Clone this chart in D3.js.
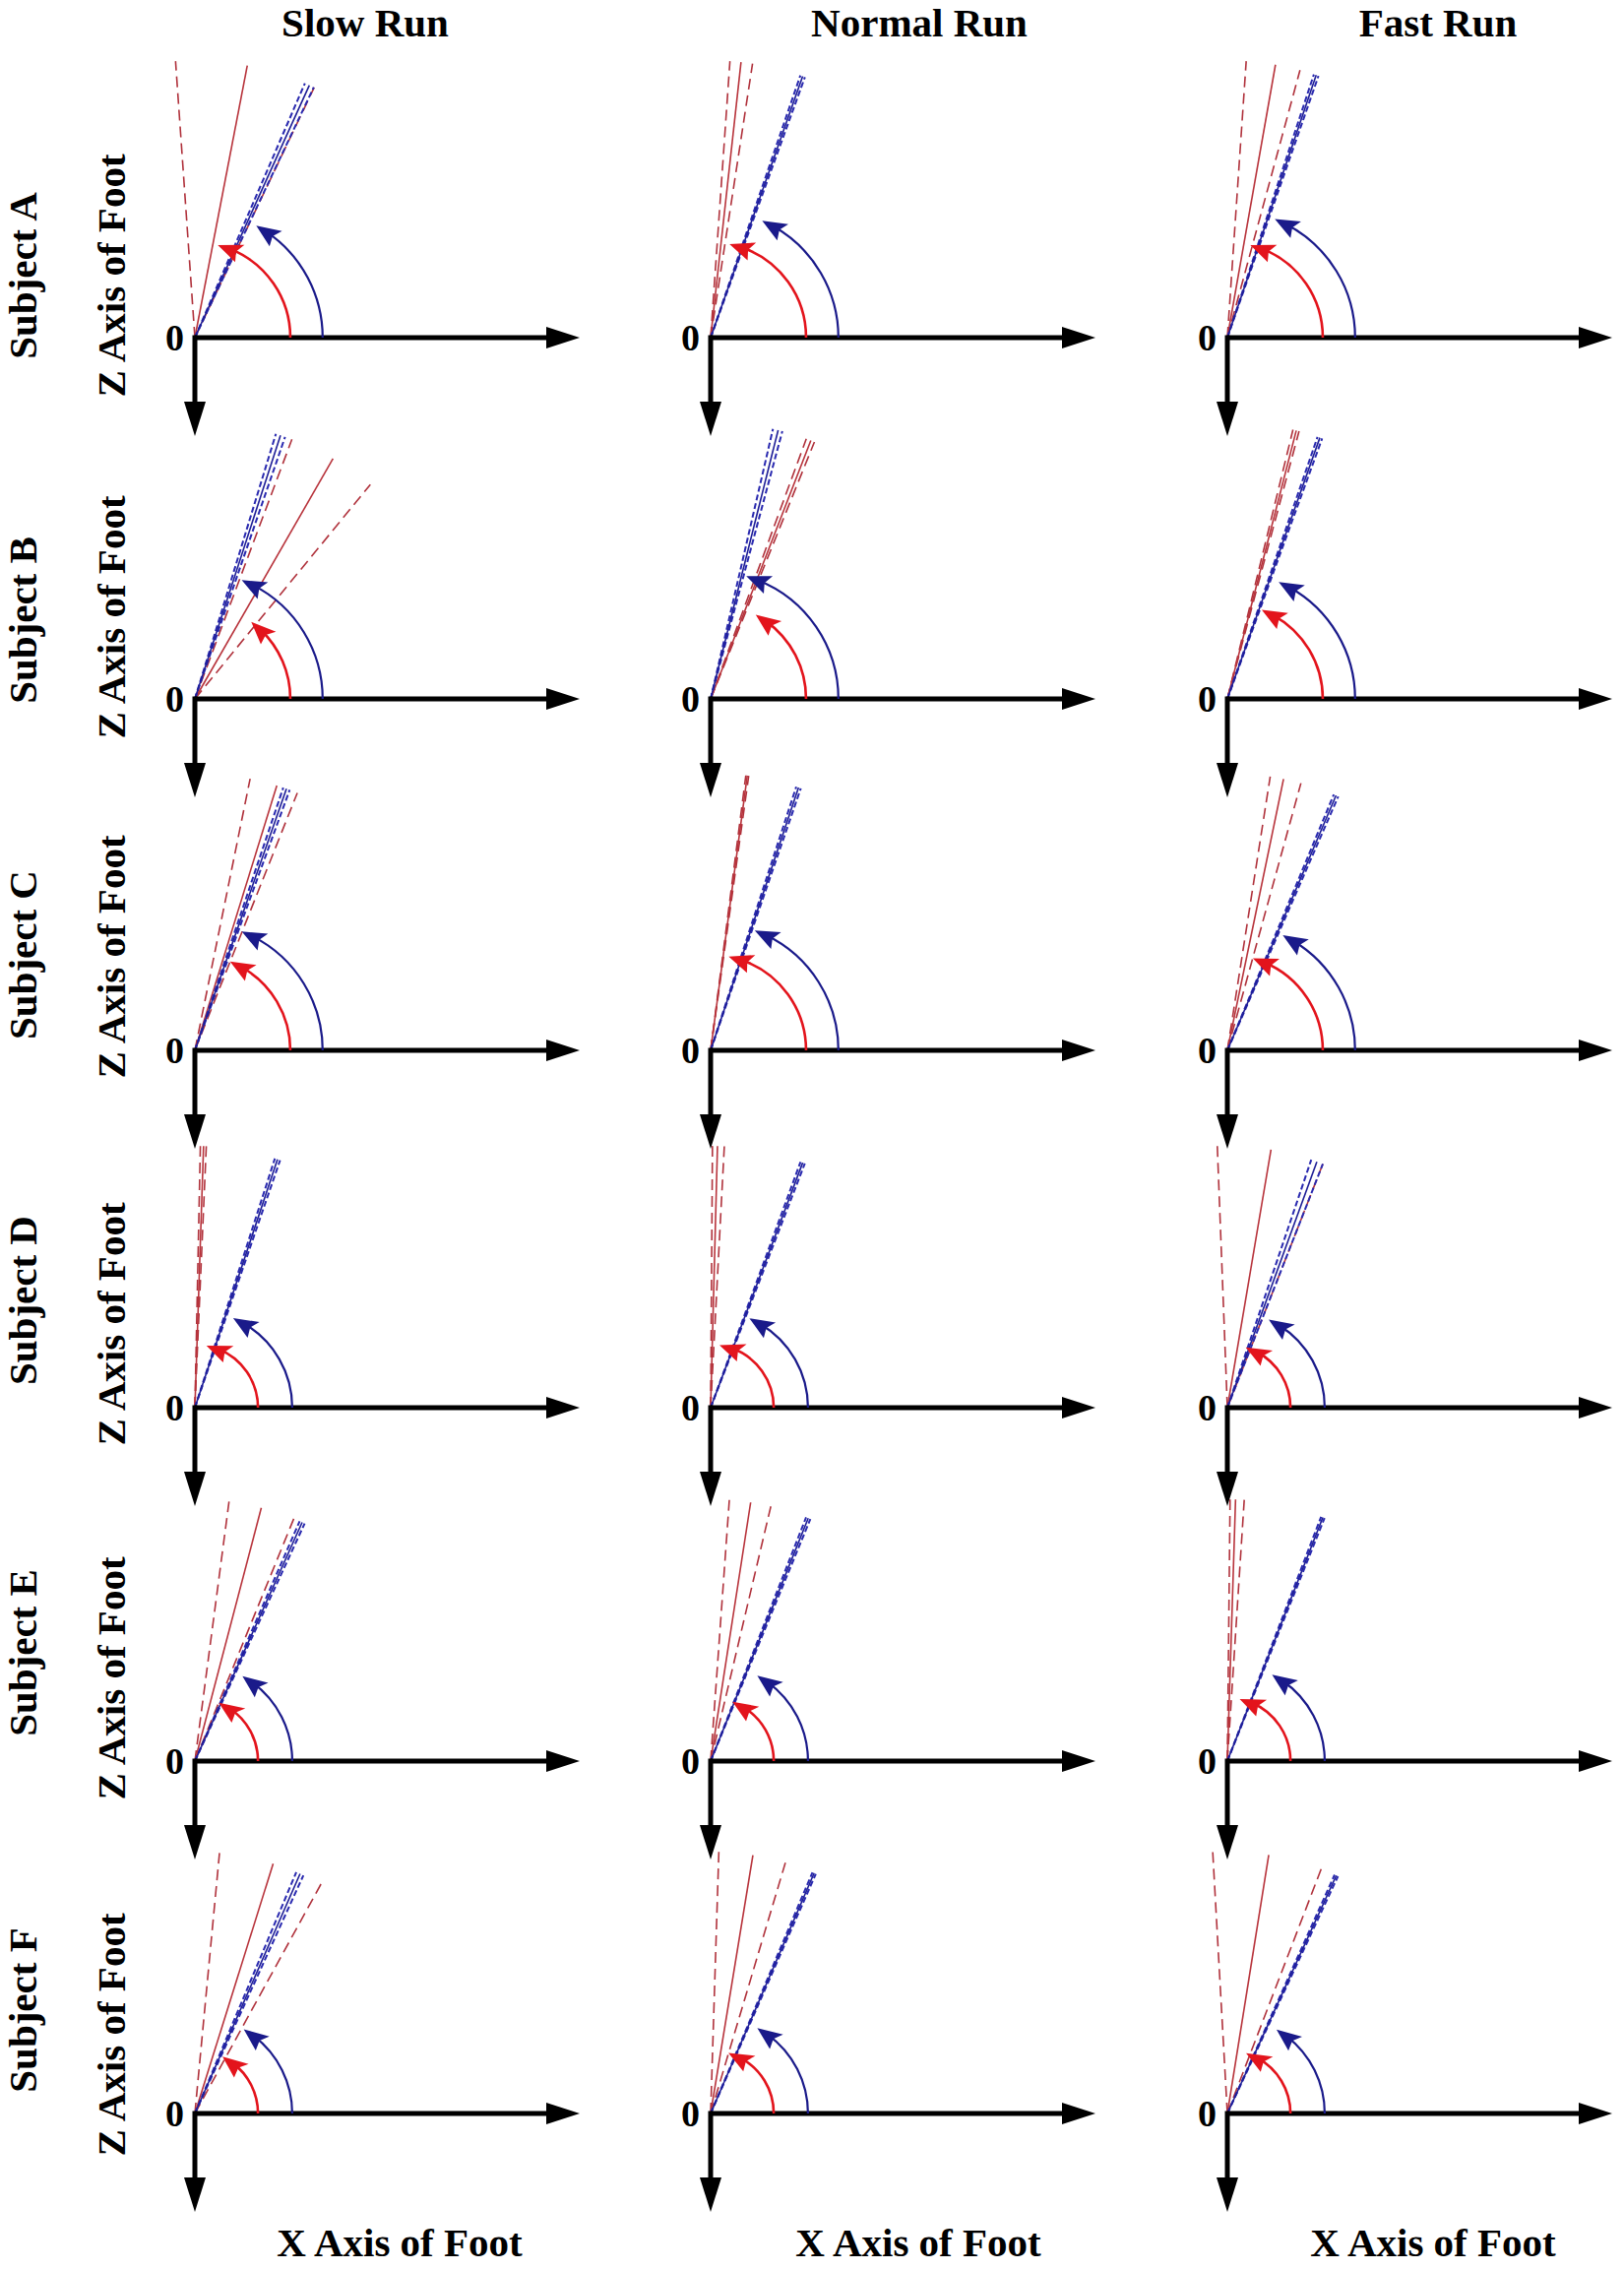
<!DOCTYPE html>
<html>
<head>
<meta charset="utf-8">
<script src="https://cdn.jsdelivr.net/npm/d3@7"></script>
<style>
  body { margin: 0; background: #fff; }
  text { font-family: "Liberation Serif", "Times New Roman", serif; font-weight: bold; fill: #000; }
</style>
</head>
<body>
<svg id="chart"></svg>
<script>
const subjects = ["Subject A", "Subject B", "Subject C", "Subject D", "Subject E", "Subject F"];
const speeds = ["Slow Run", "Normal Run", "Fast Run"];

// angles in degrees from the X axis of the foot; rows = subjects, columns = speeds
const blueMean = [[65.6, 70.6, 71.3], [72.0, 75.9, 70.5], [70.7, 71.5, 66.9], [71.6, 69.4, 70.0], [65.8, 68.1, 68.6], [66.3, 66.7, 65.4]];
const blueLow  = [[64.6, 70.1, 70.8], [71.0, 75.0, 70.0], [70.0, 71.0, 66.4], [71.0, 68.9, 68.6], [65.2, 67.6, 68.2], [65.5, 66.3, 65.0]];
const blueHigh = [[66.6, 71.1, 71.8], [73.0, 77.0, 71.0], [71.4, 72.0, 67.4], [72.2, 69.9, 71.3], [66.4, 68.6, 69.0], [67.2, 67.1, 65.8]];
const redMean  = [[79.1, 83.7, 80.0], [60.1, 68.8, 75.6], [72.8, 82.4, 78.3], [88.1, 88.5, 80.4], [75.3, 81.2, 88.2], [72.6, 80.7, 80.9]];
const redLow   = [[64.5, 81.3, 74.8], [50.7, 68.0, 75.0], [68.3, 82.1, 74.6], [87.5, 87.0, 68.6], [67.8, 76.7, 86.3], [61.2, 73.4, 69.0]];
const redHigh  = [[94.0, 86.0, 86.1], [69.5, 69.8, 76.3], [78.5, 82.7, 81.1], [88.8, 89.6, 92.2], [82.5, 85.9, 89.4], [84.6, 88.2, 93.2]];
// where the angle arrows end
const redArc   = [[69.0, 71.5, 69.0], [46.7, 54.7, 61.8], [61.3, 72.0, 67.4], [68.7, 71.2, 62.3], [57.0, 59.0, 68.0], [53.3, 62.9, 62.0]];
const blueArc  = [[56.0, 60.9, 62.9], [63.2, 68.5, 61.0], [63.2, 64.5, 59.0], [59.9, 59.6, 57.9], [53.8, 54.4, 55.7], [52.9, 54.4, 52.7]];

const W = 1650, H = 2306;
const colX = [198, 722, 1247];
const rowY = [343, 710, 1067, 1430, 1789, 2147];
const subjY = [280, 630, 970, 1321, 1679, 2042];
const zY = [280, 627, 972, 1345, 1705, 2067];
const titleX = [371, 934, 1461];
const footX = [406, 933, 1456];
const AXIS = 391, DOWN = 100;
const FONT = 41;

const svg = d3.select("#chart").attr("width", W).attr("height", H);
svg.append("rect").attr("width", W).attr("height", H).attr("fill", "#fff");

const rad = d => d * Math.PI / 180;

// column titles and bottom labels
svg.selectAll("text.title").data(speeds).join("text")
  .attr("class", "title")
  .attr("x", (d, i) => titleX[i]).attr("y", 37)
  .attr("text-anchor", "middle").attr("font-size", FONT)
  .text(d => d);

svg.selectAll("text.foot").data(speeds).join("text")
  .attr("class", "foot")
  .attr("x", (d, i) => footX[i]).attr("y", 2292)
  .attr("text-anchor", "middle").attr("font-size", FONT)
  .text("X Axis of Foot");

// row labels
svg.selectAll("text.subj").data(subjects).join("text")
  .attr("class", "subj")
  .attr("transform", (d, i) => `translate(37,${subjY[i]}) rotate(-90)`)
  .attr("text-anchor", "middle").attr("font-size", FONT)
  .text(d => d);

svg.selectAll("text.zax").data(subjects).join("text")
  .attr("class", "zax")
  .attr("transform", (d, i) => `translate(127,${zY[i]}) rotate(-90)`)
  .attr("text-anchor", "middle").attr("font-size", FONT)
  .text("Z Axis of Foot");

const styles = {
  redDash:  { stroke: "#b0323c", width: 1.6, dash: "11,6" },
  red:      { stroke: "#b8343c", width: 1.6, dash: null },
  blueDash: { stroke: "#2a2ab0", width: 2.0, dash: "6,3" },
  blue:     { stroke: "#1e1e96", width: 1.6, dash: null }
};

subjects.forEach((subj, r) => {
  speeds.forEach((sp, c) => {
    const ox = colX[c], oy = rowY[r];
    const x = d3.scaleLinear().domain([0, 1]).range([ox, ox + AXIS]);
    const y = d3.scaleLinear().domain([0, 1]).range([oy, oy - AXIS]);
    const len = r < 3 ? 0.72 : 0.68;
    const rRed = r < 3 ? 0.248 : 0.164;
    const rBlue = r < 3 ? 0.332 : 0.253;
    const g = svg.append("g");

    const rays = [
      { a: redLow[r][c], s: "redDash" },
      { a: redHigh[r][c], s: "redDash" },
      { a: redMean[r][c], s: "red" },
      { a: blueLow[r][c], s: "blueDash" },
      { a: blueHigh[r][c], s: "blueDash" },
      { a: blueMean[r][c], s: "blue" }
    ];
    g.selectAll("line.ray").data(rays).join("line")
      .attr("class", "ray")
      .attr("x1", x(0)).attr("y1", y(0))
      .attr("x2", d => x(len * Math.cos(rad(d.a))))
      .attr("y2", d => y(len * Math.sin(rad(d.a))))
      .attr("stroke", d => styles[d.s].stroke)
      .attr("stroke-width", d => styles[d.s].width)
      .attr("stroke-dasharray", d => styles[d.s].dash);

    // axes with arrowheads
    const axis = g.append("g");
    const ax = d3.path();
    ax.moveTo(x(0), y(0));
    ax.lineTo(x(1) - 30, y(0));
    axis.append("path").attr("d", ax.toString()).attr("stroke", "#000").attr("stroke-width", 5).attr("fill", "none");
    const down = d3.path();
    down.moveTo(x(0), y(0) - 2.5);
    down.lineTo(x(0), y(0) + DOWN - 32);
    axis.append("path").attr("d", down.toString()).attr("stroke", "#000").attr("stroke-width", 5).attr("fill", "none");
    const hx = d3.path();
    hx.moveTo(x(1), y(0)); hx.lineTo(x(1) - 34, y(0) - 11); hx.lineTo(x(1) - 34, y(0) + 11); hx.closePath();
    axis.append("path").attr("d", hx.toString()).attr("fill", "#000");
    const hy = d3.path();
    hy.moveTo(x(0), y(0) + DOWN); hy.lineTo(x(0) - 11, y(0) + DOWN - 35); hy.lineTo(x(0) + 11, y(0) + DOWN - 35); hy.closePath();
    axis.append("path").attr("d", hy.toString()).attr("fill", "#000");

    g.append("text")
      .attr("x", ox - 11).attr("y", oy)
      .attr("dy", "0.35em")
      .attr("text-anchor", "end").attr("font-size", 38)
      .text("0");

    // angle arrows
    const arcs = [
      { a: redArc[r][c], rr: rRed, color: "#e3141c", w: 2.6 },
      { a: blueArc[r][c], rr: rBlue, color: "#1a1a8a", w: 2.2 }
    ];
    arcs.forEach(d => {
      const R = x(d.rr) - x(0);
      const p = d3.path();
      p.moveTo(ox + R, oy);
      p.arc(ox, oy, R, 0, -rad(d.a), true);
      g.append("path").attr("d", p.toString())
        .attr("fill", "none").attr("stroke", d.color).attr("stroke-width", d.w);
      const half = 12 / R;
      const t = rad(d.a) + half, b = rad(d.a) - half;
      const head = d3.path();
      head.moveTo(ox + R * Math.cos(t), oy - R * Math.sin(t));
      head.lineTo(ox + (R + 10) * Math.cos(b), oy - (R + 10) * Math.sin(b));
      head.lineTo(ox + R * Math.cos(b + half * 0.35), oy - R * Math.sin(b + half * 0.35));
      head.lineTo(ox + (R - 10) * Math.cos(b), oy - (R - 10) * Math.sin(b));
      head.closePath();
      g.append("path").attr("d", head.toString()).attr("fill", d.color);
    });
  });
});
</script>
</body>
</html>
